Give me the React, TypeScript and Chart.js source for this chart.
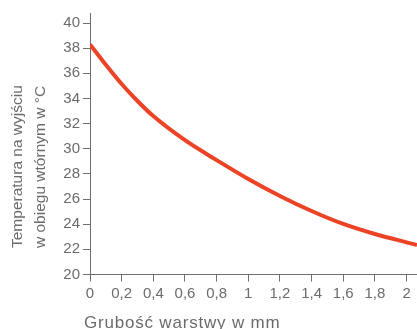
import React, { useEffect, useRef } from "react";
import { Chart, registerables } from "chart.js";

Chart.register(...registerables);

const thickness = [0, 0.1, 0.2, 0.3, 0.4, 0.6, 0.8, 1.0, 1.2, 1.4, 1.6, 1.8, 2.0, 2.066];
const temperature = [38.3, 36.68, 35.15, 33.8, 32.6, 30.68, 29.1, 27.6, 26.25, 25.05, 24.02, 23.22, 22.56, 22.35];
const xTickValues = [0, 0.2, 0.4, 0.6, 0.8, 1, 1.2, 1.4, 1.6, 1.8, 2];
const yTickValues = [20, 22, 24, 26, 28, 30, 32, 34, 36, 38, 40];
const yTitleLines = ["Temperatura na wyjściu", "w obiegu wtórnym w °C"];
const xTitle = "Grubość warstwy w mm";

const FONT = "'Liberation Sans', Arial, sans-serif";
const TEXT = "#6b6b6b";
const AXIS = "#6e6e6e";

const titlePlugin = {
  id: "customTitles",
  afterDraw(chart: any) {
    const ctx = chart.ctx;
    ctx.save();
    ctx.fillStyle = TEXT;
    ctx.textAlign = "left";
    ctx.textBaseline = "alphabetic";
    ctx.font = `17px ${FONT}`;
    (ctx as any).letterSpacing = "0.8px";
    ctx.fillText(xTitle, 84, 328);
    (ctx as any).letterSpacing = "0px";
    ctx.font = `15.5px ${FONT}`;
    ctx.translate(0, 248);
    ctx.rotate(-Math.PI / 2);
    ctx.fillText(yTitleLines[0], 0, 22);
    ctx.fillText(yTitleLines[1], 0, 45);
    ctx.restore();
  },
};

export default function App() {
  const ref = useRef<HTMLCanvasElement>(null);
  useEffect(() => {
    const chart = new Chart(ref.current!, {
      type: "line",
      data: {
        datasets: [
          {
            data: thickness.map((x, i) => ({ x, y: temperature[i] })),
            borderColor: "#ec4326",
            borderWidth: 4,
            pointRadius: 0,
            cubicInterpolationMode: "monotone",
            fill: false,
          },
        ],
      },
      options: {
        animation: false,
        responsive: false,
        maintainAspectRatio: false,
        layout: { padding: { top: 13, right: 0, left: 0, bottom: 0 } },
        plugins: { legend: { display: false }, tooltip: { enabled: false } },
        scales: {
          x: {
            type: "linear",
            min: 0,
            max: 2.066,
            afterBuildTicks: (s: any) => {
              s.ticks = xTickValues.map((value) => ({ value }));
            },
            afterFit: (s: any) => {
              s.height = 54.5;
            },
            ticks: {
              autoSkip: false,
              maxRotation: 0,
              padding: 3,
              color: TEXT,
              font: { family: FONT, size: 15 },
              callback: (v: any) => String(Math.round(Number(v) * 10) / 10).replace(".", ","),
            },
            grid: { drawOnChartArea: false, drawTicks: true, tickLength: 7, color: AXIS },
            border: { display: true, color: AXIS, width: 1 },
          },
          y: {
            type: "linear",
            min: 20,
            max: 40.8,
            afterBuildTicks: (s: any) => {
              s.ticks = yTickValues.map((value) => ({ value }));
            },
            afterFit: (s: any) => {
              s.width = 90;
            },
            ticks: {
              padding: 3,
              color: TEXT,
              font: { family: FONT, size: 15 },
            },
            grid: { drawOnChartArea: false, drawTicks: true, tickLength: 7, color: AXIS },
            border: { display: true, color: AXIS, width: 1 },
          },
        },
      },
      plugins: [titlePlugin],
    } as any);
    return () => chart.destroy();
  }, []);
  return (
    <div style={{ position: "fixed", left: 0, top: 0, width: 417, height: 329, background: "#fff" }}>
      <canvas ref={ref} width={417} height={329} style={{ display: "block" }} />
    </div>
  );
}
